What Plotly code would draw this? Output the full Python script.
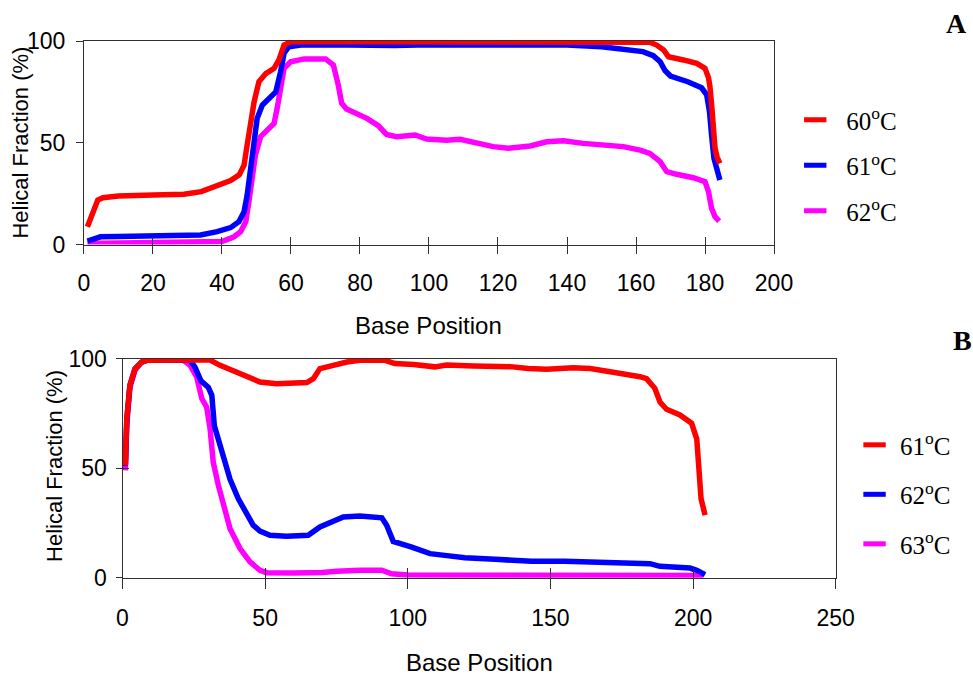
import plotly.graph_objects as go

# ---------------- Panel A data (base position vs helical fraction %) ----------------
a60_x = [1, 4, 5.5, 10, 20, 29, 34, 38.6, 42.5, 45, 46.4, 47.3, 48.3, 49.3, 50.7, 52.7, 55.1, 56.5, 58, 60,
         80, 100, 120, 140, 160, 164, 166, 168, 169.4, 171, 173.7, 177.6, 180, 181, 181.4, 182, 182.9, 183.5, 184.3]
a60_y = [8.7, 21.9, 23, 23.8, 24.3, 24.7, 26, 28.9, 31.4, 34.2, 39, 49, 62, 70, 80, 84, 86.6, 90.7, 98, 99.6,
         99.6, 99.6, 99.6, 99.6, 99.5, 99.4, 98, 95.6, 92.3, 91.5, 90.7, 89, 86.6, 82, 78, 66.9, 47.3, 43, 39.9]

a61_x = [1, 4.8, 10, 20, 29, 33.8, 38.6, 42.5, 44.9, 46.4, 47.3, 48.3, 49.3, 50.2, 51.7, 54.1, 55.6, 57, 58,
         59.4, 62.8, 70, 80, 90, 100, 120, 140, 150, 155, 160, 162, 165, 167, 168.4, 170, 175, 179, 180.5,
         181.3, 181.9, 182.6, 183.4, 184.3]
a61_y = [1.7, 3.8, 3.9, 4.0, 4.1, 4.7, 6.3, 8.3, 11.2, 16.1, 24.3, 37.4, 50.5, 62, 68.5, 72.6, 75, 85, 94,
         97.2, 98, 98.2, 97.7, 97.8, 98.2, 98.2, 98, 97.2, 96.4, 95.5, 94.8, 92.8, 89.8, 85.5, 82.8, 80, 77,
         73.5, 65.3, 53.8, 42.3, 37.4, 31.7]

a62_x = [1, 10, 20, 30, 36, 38.6, 40, 42, 43.5, 45.4, 46.9, 47.8, 48.8, 49.7, 51.2, 53.6, 55.1, 56, 57, 58,
         59.9, 63.8, 70, 72.3, 73.7, 74.7, 76.1, 79, 82, 85.3, 87.7, 90.6, 96, 99.3, 105.1, 109, 113.8, 118.6,
         123, 129.3, 134.1, 139, 144.7, 150.5, 156.3, 161.2, 164, 167, 168.9, 171.8, 176.6, 180, 181, 181.9,
         182.9, 184.1]
a62_y = [0.5, 0.7, 0.8, 0.9, 1.0, 1.2, 1.5, 2.8, 3.8, 6.3, 11.2, 21, 32.5, 44, 53, 57.1, 59.5, 67, 78.4, 86.6,
         89.8, 91.2, 91.2, 88.2, 78.4, 69.4, 66.6, 64.5, 62, 58.4, 54.1, 53, 53.8, 51.8, 51.2, 51.7, 49.7, 48.1,
         47.3, 48.4, 50.5, 51, 49.7, 48.9, 48.1, 46.4, 44.8, 40.7, 35.8, 34.5, 32.8, 30.9, 26, 17.8,
         13.7, 11.5]

# ---------------- Panel B data ----------------
b61_x = [1, 1.5, 2.6, 4.4, 6.7, 8.5, 20, 30.7, 34.2, 40, 43.5, 48.2, 54, 60, 64.6, 66.9, 69.2, 73.9, 78.6,
         83.2, 92, 95.5, 102, 109.5, 113.6, 123, 130.6, 136, 142.2, 148.7, 158, 163.9, 172, 175.5, 181.4,
         183.7, 186.6, 188.4, 190.7, 195.4, 199.5, 201.3, 202.1, 202.8, 204.2]
b61_y = [51.4, 72.7, 88, 95.6, 98.6, 99.4, 99.5, 99.5, 97.1, 94, 91.8, 89.5, 88.7, 88.8, 89.2, 91, 95.6, 97.1,
         98.6, 99.4, 99.4, 97.9, 97.5, 96.4, 97.2, 96.8, 96.6, 96.5, 95.6, 95.3, 96, 95.6, 93.9, 93.3, 91.9,
         91, 86.6, 80.3, 77, 74.4, 70.6, 63.4, 49.8, 36.1, 28.6]

b62_x = [1, 1.5, 2.6, 4.4, 6.7, 8.5, 15, 23.7, 25.4, 27.5, 30.1, 31.3, 32.2, 34.5, 36.5, 37.7, 40.6, 43.5,
         45.8, 48.2, 51.7, 57.5, 65.1, 69.2, 73.9, 77.4, 83.2, 90.9, 92.6, 94.9, 101.4, 107.8, 113, 120,
         130.6, 143.4, 155, 165.6, 175, 184.9, 188.4, 198.9, 201.3, 204.2]
b62_y = [51, 72, 88, 95.6, 98.6, 99.4, 99.5, 99.4, 96.3, 90, 87, 83.4, 69.5, 58.7, 51.4, 45, 36.1, 29.7,
         24, 21.3, 19.4, 18.9, 19.4, 23.2, 25.5, 27.8, 28.2, 27.4, 24, 16.6, 14, 11, 10.2, 9.1,
         8.4, 7.5, 7.5, 7.2, 7.0, 6.4, 5.2, 4.4, 3.4, 1.4]

b63_x = [1, 1.5, 2.6, 4.4, 6.7, 8.5, 15, 21.3, 23.7, 26, 27.8, 29.5, 30.7, 31.8, 33.6, 35.3, 37.7, 41.2,
         44.7, 48.2, 50.5, 60, 65, 70, 75.1, 80, 83.2, 90.9, 94.3, 100, 120, 150, 180, 203.6]
b63_y = [49.1, 70, 87, 95, 98.5, 99.4, 99.5, 99.4, 97.1, 91.8, 81.9, 78, 68.1, 52.9, 42.2, 33.1, 22.4, 13.3,
         7.2, 3.4, 2.3, 2.2, 2.2, 2.4, 2.9, 3.4, 3.4, 3.4, 1.8, 1.2, 1.1, 1.1, 1.1, 1.0]

a_names = ["60<sup>o</sup>C", "61<sup>o</sup>C", "62<sup>o</sup>C"]
b_names = ["61<sup>o</sup>C", "62<sup>o</sup>C", "63<sup>o</sup>C"]
colors = ["#FF0000", "#0000FF", "#FF00FF"]

a_series = [(a60_x, a60_y), (a61_x, a61_y), (a62_x, a62_y)]
b_series = [(b61_x, b61_y), (b62_x, b62_y), (b63_x, b63_y)]

SANS = "Arial, Liberation Sans, sans-serif"
SERIF = "Times New Roman, Liberation Serif, serif"
LW = 5.5

fig = go.Figure()

# data lines (drawn so red ends on top)
for (xs, ys), c in reversed(list(zip(a_series, colors))):
    fig.add_trace(go.Scatter(x=xs, y=ys, mode="lines", line=dict(color=c, width=LW),
                             showlegend=False, xaxis="x", yaxis="y", hoverinfo="skip"))
for (xs, ys), c in reversed(list(zip(b_series, colors))):
    fig.add_trace(go.Scatter(x=xs, y=ys, mode="lines", line=dict(color=c, width=LW),
                             showlegend=False, xaxis="x2", yaxis="y2", hoverinfo="skip"))

# legend keys
for i, (n, c) in enumerate(zip(a_names, colors)):
    fig.add_trace(go.Scatter(x=[None], y=[None], mode="markers", name=n, legend="legend",
                             legendgroup="a%d" % i,
                             marker=dict(symbol="line-ew", size=16, color=c, line=dict(width=5, color=c)),
                             xaxis="x", yaxis="y"))
for i, (n, c) in enumerate(zip(b_names, colors)):
    fig.add_trace(go.Scatter(x=[None], y=[None], mode="markers", name=n, legend="legend2",
                             legendgroup="b%d" % i,
                             marker=dict(symbol="line-ew", size=16, color=c, line=dict(width=5, color=c)),
                             xaxis="x2", yaxis="y2"))

axis_common = dict(showgrid=False, zeroline=False, showline=True, linecolor="#303030", linewidth=1,
                   mirror=True, tickcolor="#303030", tickwidth=1, automargin=False,
                   tickfont=dict(family=SANS, size=23, color="black"))
over_common = dict(showticklabels=False, showline=False, showgrid=False, zeroline=False,
                   tickcolor="#303030", tickwidth=1, automargin=False)

fig.update_layout(
    template="none",
    width=973, height=679, margin=dict(l=0, r=0, t=0, b=0, pad=0),
    paper_bgcolor="white", plot_bgcolor="white", showlegend=True,
    xaxis=dict(domain=[0.0863, 0.7955], range=[0, 200], dtick=20, anchor="y",
               ticks="outside", ticklen=8, ticklabelstandoff=10, **axis_common),
    yaxis=dict(domain=[0.6399, 0.9396], range=[0, 100], dtick=50, anchor="x",
               ticks="outside", ticklen=7, ticklabelstandoff=6, **axis_common),
    xaxis2=dict(domain=[0.1259, 0.8589], range=[0, 250], dtick=50, anchor="y2",
                ticks="outside", ticklen=10, ticklabelstandoff=10, **axis_common),
    yaxis2=dict(domain=[0.1492, 0.4713], range=[0, 100], dtick=50, anchor="x2",
                ticks="outside", ticklen=6, ticklabelstandoff=4, **axis_common),
    # overlay axes for the inner half of crossing tick marks
    xaxis3=dict(overlaying="x", anchor="y", range=[0, 200], dtick=20, ticks="inside", ticklen=8,
                **over_common),
    xaxis4=dict(overlaying="x2", anchor="y2", range=[0, 250], dtick=50, ticks="inside", ticklen=10,
                **over_common),
    yaxis3=dict(overlaying="y2", anchor="x2", range=[0, 100], dtick=50, ticks="inside", ticklen=6,
                **over_common),
    legend=dict(x=0.806, y=0.857, xanchor="left", yanchor="top", itemwidth=52, tracegroupgap=10,
                traceorder="grouped", bgcolor="rgba(0,0,0,0)", borderwidth=0,
                font=dict(family=SERIF, size=25, color="black")),
    legend2=dict(x=0.8726, y=0.3784, xanchor="left", yanchor="top", itemwidth=41, tracegroupgap=14,
                 traceorder="grouped", bgcolor="rgba(0,0,0,0)", borderwidth=0,
                 font=dict(family=SERIF, size=25, color="black")),
)

# invisible traces so overlay axes get drawn
fig.add_trace(go.Scatter(x=[None], y=[None], xaxis="x3", yaxis="y", showlegend=False, hoverinfo="skip"))
fig.add_trace(go.Scatter(x=[None], y=[None], xaxis="x4", yaxis="y2", showlegend=False, hoverinfo="skip"))
fig.add_trace(go.Scatter(x=[None], y=[None], xaxis="x2", yaxis="y3", showlegend=False, hoverinfo="skip"))

ann = [
    dict(text="Base Position", x=0.4409, y=0.5199, font=dict(family=SANS, size=24, color="black")),
    dict(text="Base Position", x=0.4923, y=0.0236, font=dict(family=SANS, size=24, color="black")),
    dict(text="Helical Fraction (%)", x=0.0206, y=0.7901, textangle=-90,
         font=dict(family=SANS, size=22, color="black")),
    dict(text="Helical Fraction (%)", x=0.0565, y=0.3137, textangle=-90,
         font=dict(family=SANS, size=22, color="black")),
    dict(text="<b>A</b>", x=0.9833, y=0.9657, font=dict(family=SERIF, size=28, color="black")),
    dict(text="<b>B</b>", x=0.9892, y=0.4978, font=dict(family=SERIF, size=28, color="black")),
]
for a in ann:
    a.update(xref="paper", yref="paper", showarrow=False, xanchor="center", yanchor="middle")
    fig.add_annotation(**a)

fig.write_html("out.html", config={"displayModeBar": False},
               post_script="document.body.style.margin='0px';")
